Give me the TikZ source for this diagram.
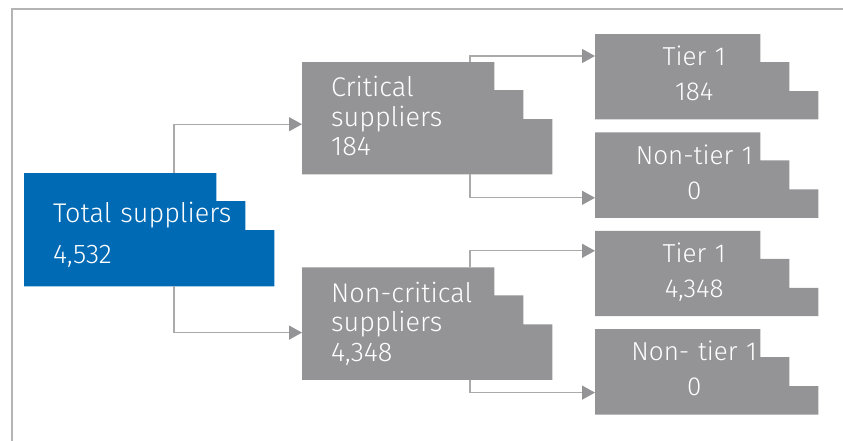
\documentclass[tikz,border=0pt]{standalone}
\usepackage{fontspec}
\setmainfont{Fira Sans Light}
\usetikzlibrary{arrows.meta, positioning, backgrounds}
\definecolor{supblue}{RGB}{0,106,180}
\definecolor{supgray}{RGB}{148,148,150}
\definecolor{linkgray}{RGB}{170,170,170}
\definecolor{framegray}{RGB}{180,180,180}

\begin{document}
\begin{tikzpicture}[
  x=1pt, y=1pt,
  node distance = 13pt,
  box/.style     = {rectangle, inner xsep=29pt, inner ysep=0pt, text=white,
                    align=left, text width=192pt, minimum height=112pt,
                    text height=16pt, text depth=59pt,
                    font=\fontsize{27}{29.5}\selectfont},
  tierbox/.style = {rectangle, inner sep=0pt, text=white, align=center,
                    text width=198pt, minimum height=85pt,
                    text height=13pt, text depth=35pt,
                    font=\fontsize{26}{35}\selectfont},
  link/.style    = {linkgray, line width=1.3pt,
                    -{Triangle[length=13pt, width=14pt, color=supgray]}},
]
\useasboundingbox (0,0) rectangle (843,-440);
\draw[framegray, line width=1.5pt] (12,-445) -- (12,-9) -- (850,-9);

\node[box, anchor=north west, minimum height=113pt, text height=26pt, text depth=41pt,
      font=\fontsize{27}{41}\selectfont] (tot) at (24,-173) {Total suppliers\\4,532};
\node[box, anchor=north west] (crit) at (302,-62) {Critical\\suppliers\\184};
\node[box, below=93pt of crit] (ncrit) {Non-critical\\suppliers\\4,348};

\node[tierbox, anchor=north west] (t1) at (595,-34) {Tier 1\\184};
\node[tierbox, below=of t1] (nt1) {Non-tier 1\\0};
\node[tierbox, below=of nt1] (t2) {Tier 1\\4,348};
\node[tierbox, below=of t2] (nt2) {Non- tier 1\\0};

% stepped boxes behind the text
\begin{scope}[on background layer]
\foreach \n/\c/\o in {tot/supblue/0, crit/supgray/0, ncrit/supgray/0,
                      t1/supgray/25, nt1/supgray/25, t2/supgray/25, nt2/supgray/25}
  \fill[\c] (\n.north west) -- ([xshift=\o-58]\n.north east) -- ++(0,-28)
    -- ++(29,0) -- ++(0,-29) -- ++(29,0) |- (\n.south west) -- cycle;
\end{scope}

\draw[link] ([xshift=150pt]tot.north west) |- ([yshift=-6pt]crit.west);
\draw[link] ([xshift=150pt]tot.south west) |- ([yshift=-9pt]ncrit.west);
\draw[link] ([xshift=168pt]crit.north west) |- ([yshift=-22pt]t1.north west);
\draw[link] ([xshift=168pt]crit.south west) |- ([yshift=20pt]nt1.south west);
\draw[link] ([xshift=168pt]ncrit.north west) |- ([yshift=-20pt]t2.north west);
\draw[link] ([xshift=168pt]ncrit.south west) |- ([yshift=22pt]nt2.south west);
\end{tikzpicture}
\end{document}
